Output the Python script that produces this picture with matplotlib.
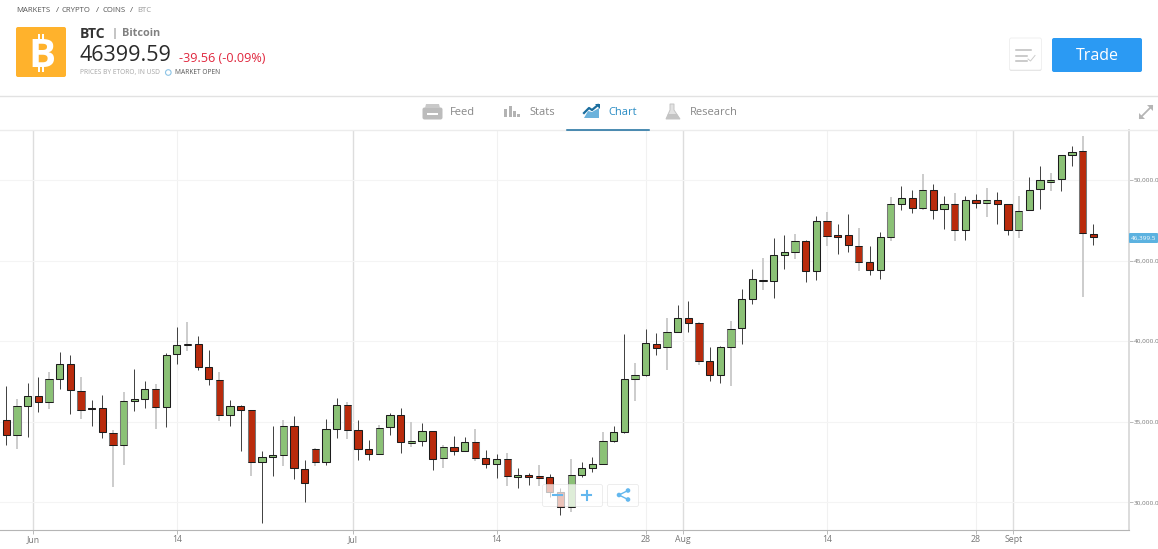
import matplotlib
matplotlib.use("Agg")
import matplotlib.pyplot as plt
from matplotlib.patches import FancyBboxPatch, Rectangle, Polygon, Circle
import numpy as np

plt.rcParams['font.family'] = ['Open Sans', 'DejaVu Sans']

# one entry per daily candle
open_ = [35091, 34181, 35959, 36580, 36208, 37635, 38565, 36890, 35835, 35835, 34284, 33540, 36270,
         36394, 37014, 35918, 39186, 39806, 39806, 38379, 37614, 35401, 36001, 35711, 32485, 32816,
         32940, 34719, 32072, 33313, 32527, 34533, 36022, 34471, 33313, 33024, 34657, 35423, 33706,
         33830, 34430, 32734, 33417, 33210, 33727, 32734, 32403, 32693, 31597, 31700, 31617, 31555,
         30666, 29735, 31679, 32155, 32403, 33830, 34388, 37635, 37924, 39806, 39620, 40551, 41419,
         41109, 38751, 37924, 39620, 40799, 42597, 43796, 43713, 45327, 45513, 46195, 44355, 47436,
         46567, 46567, 45926, 44892, 44437, 46443, 48532, 48863, 48263, 49359, 48222, 48511, 46918,
         48780, 48594, 48759, 48490, 46877, 48159, 49421, 49896, 50041, 51530, 51778, 46670]
high = [37221, 36394, 37386, 37779, 38110, 39351, 39144, 37779, 36332, 36663, 34491, 36828, 38255,
        37531, 37345, 39268, 40861, 41212, 40344, 39434, 38069, 36332, 36022, 35711, 33188, 34719,
        35132, 35381, 32610, 33396, 35154, 36498, 36208, 35092, 33851, 34802, 35526, 35836, 34968,
        34926, 34430, 33541, 34140, 34037, 34554, 33231, 32982, 33065, 32155, 31804, 32321, 31783,
        30914, 32692, 32485, 32796, 34388, 34740, 40427, 38627, 40757, 40489, 41461, 42246, 42495,
        41192, 39641, 39723, 41254, 43217, 44458, 45182, 46381, 46567, 46629, 46257, 47746, 47994,
        47250, 47912, 47022, 45885, 46753, 48966, 49649, 49359, 50393, 49731, 49028, 49214, 49007,
        49131, 49524, 49255, 48490, 48986, 50207, 50868, 50413, 51530, 52088, 52730, 47249]
low = [33561, 33312, 34078, 35629, 35815, 37056, 35505, 35194, 34719, 33974, 30955, 32320, 35691,
       35877, 34553, 34657, 38607, 39413, 38234, 37262, 35050, 34719, 33209, 31617, 28742, 31617,
       32237, 31431, 30046, 32259, 32321, 34016, 33913, 32631, 32610, 33024, 34182, 33065, 33437,
       33520, 32031, 32155, 32941, 33210, 32569, 32114, 31493, 31038, 30914, 31080, 31038, 30356,
       29219, 29383, 31596, 31906, 32403, 33747, 34326, 36291, 37842, 39144, 38214, 40551, 40551,
       38545, 37552, 37387, 37221, 39806, 42287, 43196, 42700, 44499, 45120, 43693, 43776, 45906,
       45430, 45533, 44375, 44106, 43858, 46236, 48139, 47974, 48160, 47601, 46981, 46195, 46257,
       48263, 47684, 47270, 46588, 46401, 48118, 48221, 49297, 49338, 50868, 42762, 45988]
close = [34181, 35959, 36580, 36208, 37635, 38565, 36952, 35711, 35773, 34346, 33540, 36270, 36394,
         37014, 35918, 39124, 39744, 39744, 38400, 37655, 35401, 36001, 35711, 32485, 32795, 32940,
         34719, 32114, 31204, 32527, 34533, 36022, 34471, 33313, 33024, 34595, 35423, 33768, 33810,
         34430, 32693, 33417, 33210, 33727, 32734, 32403, 32693, 31659, 31700, 31597, 31535, 30666,
         29736, 31679, 32113, 32361, 33788, 34347, 37635, 37883, 39868, 39599, 40551, 41419, 41150,
         38751, 37924, 39620, 40737, 42598, 43838, 43734, 45327, 45513, 46195, 44355, 47436, 46547,
         46485, 45947, 44892, 44437, 46443, 48532, 48863, 48263, 49359, 48160, 48532, 46918, 48759,
         48594, 48780, 48532, 46877, 48097, 49379, 49979, 50020, 51530, 51758, 46691, 46443]

y_ticks = [30000, 35000, 40000, 45000, 50000]
y_labels = ['30,000.0', '35,000.0', '40,000.0', '45,000.0', '50,000.0']
x_ticks = [2.5, 16, 32.5, 46, 60, 63.5, 77, 91, 94.5]
x_labels = ['Jun', '14', 'Jul', '14', '28', 'Aug', '14', '28', 'Sept']
month_ticks = [2.5, 32.5, 63.5, 94.5]
last_price = '46,399.5'

GREEN = '#8bc176'
RED = '#b92b0c'
W, H = 1158, 549

fig = plt.figure(figsize=(W / 100, H / 100), dpi=100)
ax = fig.add_axes([0, (H - 530) / H, 1129 / W, 400 / H])

idx = np.arange(len(open_))
o, hi, lo, c = map(np.array, (open_, high, low, close))
up = c >= o
# every third wick falls between two pixels in the original, so it looks wide and pale
pale = np.where(idx < 11, idx % 3 == 1, idx % 3 == 2)

ax.vlines(idx[~pale], lo[~pale], hi[~pale], color='#444444', lw=0.72, zorder=3)
ax.vlines(idx[pale], lo[pale], hi[pale], color='#cdcdcd', lw=1.44, zorder=3)

body_lo = np.minimum(o, c)
body_hi = np.maximum(o, c)
edges = np.where(pale, '#777777', '#1c1c1c')
ax.bar(idx, body_hi - body_lo, bottom=body_lo, width=0.68, color=np.where(up, GREEN, RED),
       edgecolor=edges, lw=0.75, zorder=4)
# the pale candles keep dark caps, only their sides go soft
ax.hlines(body_hi[pale], idx[pale] - 0.34, idx[pale] + 0.34, color='#1c1c1c', lw=0.72, zorder=5)
ax.hlines(body_lo[pale], idx[pale] - 0.34, idx[pale] + 0.34, color='#1c1c1c', lw=0.72, zorder=5)

ax.set_xlim(-0.594, 105.35)
ax.set_ylim(28290, 53101)
ax.yaxis.tick_right()
ax.set_yticks(y_ticks)
ax.set_yticklabels(y_labels, fontsize=4.6, color='#777777')
ax.set_xticks(x_ticks)
ax.set_xticklabels(x_labels, fontsize=6.3, color='#777777')
ax.tick_params(axis='both', length=3, width=0.7, color='#bbbbbb')
ax.tick_params(axis='x', pad=0.8)
ax.tick_params(axis='y', pad=0.4)
ax.grid(axis='y', color='#f4f4f4', lw=0.8, zorder=0)
for t in x_ticks:
    if t in month_ticks:
        ax.axvline(t, color='#dddddd', lw=1.0, zorder=1)
    else:
        ax.axvline(t, color='#f1f1f1', lw=0.8, zorder=1)
for s in ['top', 'left']:
    ax.spines[s].set_visible(False)
ax.spines['bottom'].set_color('#b5b5b5')
ax.spines['right'].set_color('#dcdcdc')
ax.spines['right'].set_linewidth(1.4)

# page furniture around the chart, in pixel coordinates
ui = fig.add_axes([0, 0, 1, 1], zorder=5)
ui.set_xlim(0, W)
ui.set_ylim(H, 0)
ui.axis('off')
ui.patch.set_alpha(0)

ui.plot([0, W], [95.5, 95.5], color='#e2e2e2', lw=1)
ui.plot([0, W], [129.5, 129.5], color='#ececec', lw=1)
ui.plot([567, 649], [129.5, 129.5], color='#1a6d9e', lw=1.1)

ui.text(16, 11, 'MARKETS', fontsize=5.6, color='#555555', va='center')
ui.text(55.5, 11, '/', fontsize=6, color='#555555', va='center')
ui.text(62, 11, 'CRYPTO', fontsize=5.6, color='#555555', va='center')
ui.text(95.5, 11, '/', fontsize=6, color='#555555', va='center')
ui.text(102.5, 11, 'COINS', fontsize=5.6, color='#555555', va='center')
ui.text(130, 11, '/', fontsize=6, color='#555555', va='center')
ui.text(137.5, 11, 'BTC', fontsize=5.6, color='#999999', va='center')

ui.add_patch(FancyBboxPatch((17, 28), 48, 48, boxstyle='round,pad=1,rounding_size=2', fc='#ffb22c', ec='none'))
for bx in (37.5, 41.5):
    ui.add_patch(Rectangle((bx, 33.5), 2.6, 6, fc='white', ec='none'))
    ui.add_patch(Rectangle((bx, 65.5), 2.6, 6.5, fc='white', ec='none'))
ui.text(42, 67, 'B', fontsize=29, fontweight='bold', color='white', ha='center', va='baseline')

ui.text(80, 33.5, 'BTC', fontsize=10, fontweight='bold', color='#333333', va='center')
ui.text(111, 33.5, '|', fontsize=8, color='#666666', va='center')
ui.text(122, 33.5, 'Bitcoin', fontsize=7.8, fontweight='bold', color='#808080', va='center')
ui.text(79.5, 55.5, '46399.59', fontsize=15.5, color='#2a2a2a', va='center')
ui.text(179, 58, '-39.56 (-0.09%)', fontsize=9.1, color='#e0263d', va='center')
ui.text(80, 72.5, 'PRICES BY ETORO, IN USD', fontsize=4.8, color='#a5a5a5', va='center')
ui.add_patch(Circle((168.3, 72.5), 2.8, fc='white', ec='#8cc4e6', lw=0.8))
ui.text(175, 72.5, 'MARKET OPEN', fontsize=4.8, color='#555555', va='center')

# tabs
ui.add_patch(FancyBboxPatch((423, 108), 19, 11, boxstyle='round,pad=0.5,rounding_size=2', fc='#bcbcbc', ec='none'))
ui.add_patch(Polygon([[425, 108], [426, 104], [439, 104], [440, 108]], fc='#c9c9c9', ec='none'))
ui.add_patch(Rectangle((427, 113), 11, 1.5, fc='white', ec='none'))
ui.text(450, 112.5, 'Feed', fontsize=8, color='#888888', va='center')

for bx, bh in zip((504, 508.5, 513, 517), (8, 11, 6, 3)):
    ui.add_patch(Rectangle((bx, 117 - bh), 3, bh, fc='#b3b3b3', ec='none'))
ui.text(529, 112.5, 'Stats', fontsize=8, color='#888888', va='center')

ui.add_patch(Polygon([[584, 118], [599, 118], [599, 108], [592, 112], [588, 111]], fc='#6bb2dc', ec='none'))
ui.plot([584, 589, 592, 598], [113, 108, 110, 105], color='#1a6d9e', lw=1.6)
ui.add_patch(Polygon([[595, 104], [600, 104], [600, 109]], fc='#1a6d9e', ec='none'))
ui.text(608, 112.5, 'Chart', fontsize=8, color='#2a8cc4', va='center')

ui.add_patch(Polygon([[670, 104], [674, 104], [674, 110], [680, 119], [666, 119], [670, 110]],
                     fc='#e2e2e2', ec='#c4c4c4', lw=0.7))
ui.add_patch(Polygon([[668, 114], [677, 114], [680, 119], [666, 119]], fc='#c4c4c4', ec='none'))
ui.text(690, 112.5, 'Research', fontsize=8, color='#888888', va='center')

# top right buttons
ui.add_patch(FancyBboxPatch((1010, 39.5), 31, 31, boxstyle='round,pad=0.5,rounding_size=2', fc='#dddddd', ec='none'))
ui.add_patch(FancyBboxPatch((1010, 38.5), 31, 31, boxstyle='round,pad=0.5,rounding_size=2', fc='white', ec='#f0f0f0', lw=0.7))
for ly, lx in zip((50, 55.5, 60.5), (1031, 1027, 1027)):
    ui.plot([1016, lx], [ly, ly], color='#bdbdbd', lw=1.1)
ui.plot([1028, 1030.5, 1035], [59, 61, 55.5], color='#cccccc', lw=0.7)

ui.add_patch(FancyBboxPatch((1053, 39), 88, 32, boxstyle='round,pad=1,rounding_size=2', fc='#2b9af3', ec='none'))
ui.text(1097, 56, 'Trade', fontsize=11.5, color='white', ha='center', va='center')

ui.plot([1140, 1152], [118, 106], color='#b5b5b5', lw=1.3)
ui.add_patch(Polygon([[1147, 105], [1153, 105], [1153, 111]], fc='#b5b5b5', ec='none'))
ui.add_patch(Polygon([[1139, 113], [1139, 119], [1145, 119]], fc='#b5b5b5', ec='none'))

# last price tag
ui.add_patch(FancyBboxPatch((1129, 233), 29, 10, boxstyle='round,pad=0,rounding_size=1', fc='#5cb2e0', ec='none'))
ui.text(1131, 238.5, last_price, fontsize=4.6, color='white', va='center')

# zoom and share controls float above the candles
ui.add_patch(FancyBboxPatch((543, 485), 59, 21, boxstyle='round,pad=0.5,rounding_size=2',
                            fc='#ffffff', ec='#dddddd', lw=0.5, alpha=0.72, zorder=6))
ui.add_patch(FancyBboxPatch((608, 485), 30, 21, boxstyle='round,pad=0.5,rounding_size=2',
                            fc='#ffffff', ec='#dddddd', lw=0.5, alpha=0.72, zorder=6))
ui.plot([553, 562], [495, 495], color='#63b7ee', lw=1.5, zorder=7)
ui.plot([582, 591], [495, 495], color='#63b7ee', lw=1.5, zorder=7)
ui.plot([586.5, 586.5], [490.5, 499.5], color='#63b7ee', lw=1.5, zorder=7)
ui.plot([628, 619, 628], [490.5, 495, 499.5], color='#63b7ee', lw=1, zorder=7)
for sx, sy in ((628, 490.5), (619, 495), (628, 499.5)):
    ui.add_patch(Circle((sx, sy), 2.3, fc='#63b7ee', ec='none', zorder=7))

fig.savefig('out.png', dpi=100)
